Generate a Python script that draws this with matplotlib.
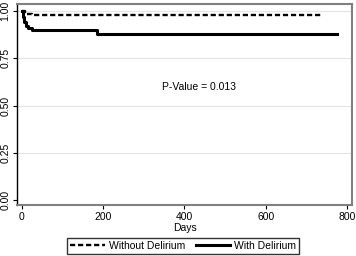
import matplotlib
matplotlib.use("Agg")
import matplotlib.pyplot as plt

plt.rcParams['font.family'] = ['Liberation Sans', 'DejaVu Sans']

# Kaplan-Meier steps
days_without = [0, 8, 25, 735]
surv_without = [1.0, 0.985, 0.978, 0.978]
days_with = [0, 3, 6, 10, 15, 25, 185, 775]
surv_with = [1.0, 0.97, 0.94, 0.92, 0.91, 0.90, 0.88, 0.88]

yticks = [0, 0.25, 0.5, 0.75, 1.0]
ytick_labels = ['0.00', '0.25', '0.50', '0.75', '1.00']
xticks = [0, 200, 400, 600, 800]

fig = plt.figure(figsize=(3.56, 2.56), dpi=100)
ax = fig.add_axes([0.048, 0.199, 0.941, 0.785])

for y in yticks[1:]:
    ax.axhline(y, color='#e3e3e3', lw=0.8, zorder=0)

ax.step(days_without, surv_without, where='post', color='black', lw=1.7,
        ls=(0, (2.2, 1.2)), label='Without Delirium')
ax.step(days_with, surv_with, where='post', color='black', lw=2.2,
        label='With Delirium')

ax.set_xlim(-11, 812)
ax.set_ylim(-0.026, 1.037)
ax.set_xticks(xticks)
ax.set_yticks(yticks)
ax.set_yticklabels(ytick_labels, rotation=90, va='center')
ax.tick_params(labelsize=7.5, length=3, width=0.8, pad=2)
ax.set_xlabel('Days', fontsize=7.5, labelpad=1)

for side in ['top', 'right', 'bottom']:
    ax.spines[side].set_color('#808080')
    ax.spines[side].set_linewidth(1.5)
ax.spines['left'].set_color('black')
ax.spines['left'].set_linewidth(1.0)

ax.text(435, 0.60, 'P-Value = 0.013', fontsize=7.5, ha='center', va='center')

fig.legend(loc='center', bbox_to_anchor=(0.515, 0.039), ncol=2, fontsize=7.5,
           frameon=True, fancybox=False, edgecolor='black', handlelength=3.3,
           columnspacing=1.0, borderpad=0.3, handletextpad=0.4,
           borderaxespad=0)

fig.savefig('out.png', dpi=100)
